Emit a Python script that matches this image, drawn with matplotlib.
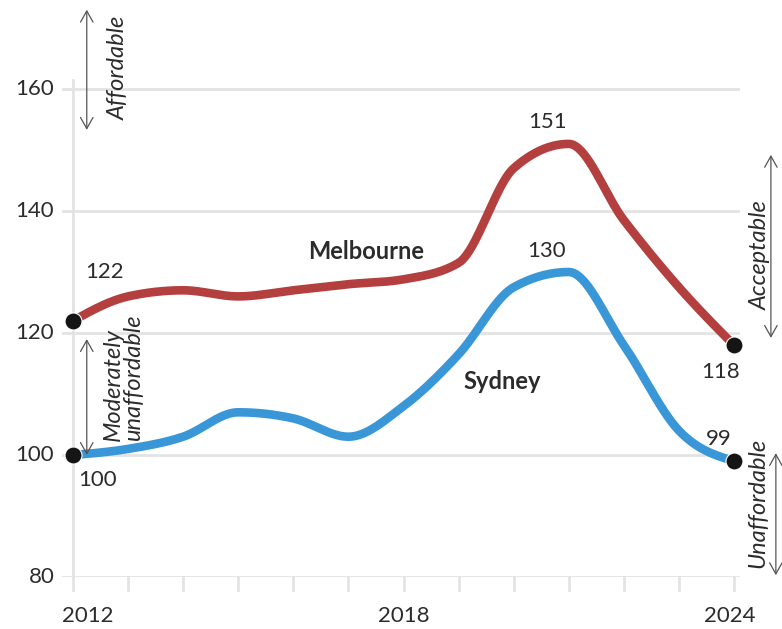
import numpy as np
import matplotlib
matplotlib.use("Agg")
import matplotlib.pyplot as plt

years = [2012, 2013, 2014, 2015, 2016, 2017, 2018, 2019, 2020, 2021, 2022, 2023, 2024]
melbourne = [122, 126, 127, 126, 127, 128, 128.8, 131.5, 147, 151, 138.5, 127.5, 118]
sydney = [100, 101, 103, 107, 106, 103, 108, 116.5, 127.5, 130, 118, 104, 99]
y_ticks = [80, 100, 120, 140, 160]
x_labels = ["2012", "2018", "2024"]

RED = "#b3403e"
BLUE = "#3a97d7"
GRID = "#e3e3e3"
TEXT = "#2b2b2b"
ARROW = "#555555"

plt.rcParams["font.family"] = ["Lato", "DejaVu Sans"]


def monotone_curve(x, y, n=40):
    """Monotone cubic (Fritsch-Carlson style) interpolation for a smooth line."""
    x = np.asarray(x, float)
    y = np.asarray(y, float)
    h = np.diff(x)
    s = np.diff(y) / h
    m = np.zeros_like(y)
    for i in range(1, len(y) - 1):
        s0, s1 = s[i - 1], s[i]
        p = (s0 * h[i] + s1 * h[i - 1]) / (h[i - 1] + h[i])
        m[i] = (np.sign(s0) + np.sign(s1)) * min(abs(s0), abs(s1), 0.5 * abs(p))
    m[0] = (3 * s[0] - m[1]) / 2
    m[-1] = (3 * s[-1] - m[-2]) / 2
    xs, ys = [], []
    for i in range(len(x) - 1):
        t = np.linspace(0, 1, n, endpoint=(i == len(x) - 2))
        h00 = 2 * t**3 - 3 * t**2 + 1
        h10 = t**3 - 2 * t**2 + t
        h01 = -2 * t**3 + 3 * t**2
        h11 = t**3 - t**2
        xs.append(x[i] + t * h[i])
        ys.append(h00 * y[i] + h10 * h[i] * m[i] + h01 * y[i + 1] + h11 * h[i] * m[i + 1])
    return np.concatenate(xs), np.concatenate(ys)


fig = plt.figure(figsize=(7.82, 6.29), dpi=100)
# axes spans the plotting region; 80 sits at the bottom edge
left_px, right_px = 62, 740
x0_px, x1_px = 73, 734
px_per_year = (x1_px - x0_px) / 12
xmin = 2012 - (x0_px - left_px) / px_per_year
xmax = 2024 + (right_px - x1_px) / px_per_year
bottom_px = 577
px_per_unit = 6.1
ymax = 80 + bottom_px / px_per_unit

ax = fig.add_axes([left_px / 782, 1 - bottom_px / 629, (right_px - left_px) / 782, bottom_px / 629])
ax.set_xlim(xmin, xmax)
ax.set_ylim(80, ymax)
for sp in ax.spines.values():
    sp.set_visible(False)
ax.set_xticks([])
ax.set_yticks([])

# horizontal grid
for v in y_ticks:
    ax.axhline(v, color=GRID, lw=2, zorder=0)
    ax.text(xmin - 0.14, v, str(v), ha="right", va="center", fontsize=16, color=TEXT)

# vertical rule at the start year
ax.plot([2012, 2012], [80, 161.5], color=GRID, lw=2, zorder=0)

# year ticks below the baseline
for yr in years:
    ax.plot([yr, yr], [80, 80 - 13 / px_per_unit], color=GRID, lw=2, clip_on=False, zorder=0)
# end labels are nudged inward so they stay inside the frame
label_pos = {"2012": 2012.26, "2018": 2018.0, "2024": 2023.92}
for lab in x_labels:
    ax.text(label_pos[lab], 80 - 39 / px_per_unit, lab, ha="center", va="center",
            fontsize=16, color=TEXT)

# series
mx, my = monotone_curve(years, melbourne)
sx, sy = monotone_curve(years, sydney)
ax.plot(mx, my, color=RED, lw=6.2, solid_capstyle="butt", zorder=3, clip_on=False)
ax.plot(sx, sy, color=BLUE, lw=6.2, solid_capstyle="butt", zorder=3, clip_on=False)

# endpoint dots
for series in (melbourne, sydney):
    ax.scatter([years[0], years[-1]], [series[0], series[-1]], s=150, color="#151515",
               edgecolor="white", linewidth=0.8, zorder=5, clip_on=False)

# value labels
lab_kw = dict(fontsize=16, color=TEXT, ha="center", va="center")
ax.text(2012.58, 130.0, f"{melbourne[0]:g}", **lab_kw)
ax.text(2012.44, 95.9, f"{sydney[0]:g}", **lab_kw)
ax.text(2023.76, 113.6, f"{melbourne[-1]:g}", **lab_kw)
ax.text(2023.72, 102.6, f"{sydney[-1]:g}", **lab_kw)
ax.text(2020.62, 154.6, f"{max(melbourne):g}", **lab_kw)
ax.text(2020.59, 133.4, f"{max(sydney):g}", **lab_kw)

# series names
ax.text(2017.32, 133.4, "Melbourne", fontsize=17, fontweight="bold", color=TEXT, ha="center", va="center")
ax.text(2019.79, 112.0, "Sydney", fontsize=17, fontweight="bold", color=TEXT, ha="center", va="center")

# band arrows with labels
arrow_kw = dict(arrowstyle="<->,head_length=0.8,head_width=0.45", color=ARROW, lw=0.9,
                shrinkA=0, shrinkB=0)
band_kw = dict(fontsize=17, style="italic", color=TEXT, rotation=90, ha="center", va="center")


def band(x, y_top, y_bot):
    ax.annotate("", xy=(x, y_top), xytext=(x, y_bot), arrowprops=arrow_kw, annotation_clip=False)


band(2012.25, 173.0, 153.3)
ax.text(2012.82, 163.4, "Affordable", **band_kw)

band(2012.25, 119.0, 100.0)
ax.text(2012.92, 112.6, "Moderately\nunaffordable", multialignment="left", linespacing=0.95, **band_kw)

band(2024.67, 149.2, 119.2)
ax.text(2024.47, 132.8, "Acceptable", **band_kw)

band(2024.76, 100.3, 80.3)
ax.text(2024.44, 92.2, "Unaffordable", **band_kw)

fig.savefig("out.png", dpi=100, facecolor="white")
